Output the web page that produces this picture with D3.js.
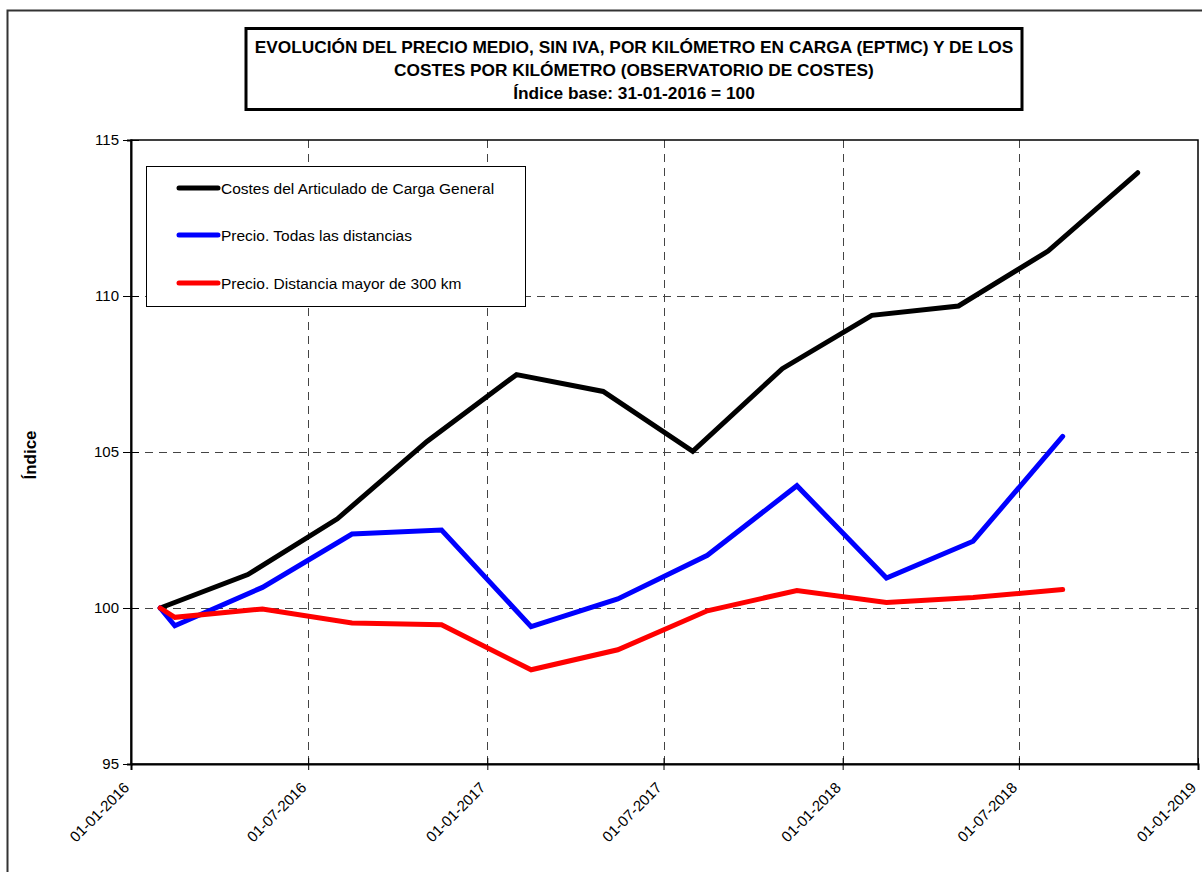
<!DOCTYPE html>
<html>
<head>
<meta charset="utf-8">
<script src="https://cdn.jsdelivr.net/npm/d3@7"></script>
<style>
  body { margin: 0; background: #fff; }
  svg { display: block; font-family: "Liberation Sans", Arial, sans-serif; }
</style>
</head>
<body>
<div id="chart"></div>
<script>
// series data
var costDates = ["31-01-2016", "30-04-2016", "31-07-2016", "31-10-2016", "31-01-2017", "30-04-2017",
                 "31-07-2017", "31-10-2017", "31-01-2018", "30-04-2018", "31-07-2018", "31-10-2018"];
var costValues = [100, 101.07, 102.86, 105.34, 107.48, 106.94, 105.02, 107.67, 109.38, 109.68, 111.44, 113.95];

var priceDates = ["31-01-2016", "15-02-2016", "15-05-2016", "15-08-2016", "15-11-2016", "15-02-2017",
                  "15-05-2017", "15-08-2017", "15-11-2017", "15-02-2018", "15-05-2018", "15-08-2018"];
var priceAll = [100, 99.43, 100.66, 102.37, 102.50, 99.40, 100.29, 101.69, 103.92, 100.96, 102.14, 105.50];
var priceLong = [100, 99.70, 99.97, 99.52, 99.46, 98.02, 98.66, 99.91, 100.56, 100.18, 100.34, 100.59];

var seriesNames = ["Costes del Articulado de Carga General", "Precio. Todas las distancias", "Precio. Distancia mayor de 300 km"];
var seriesColors = ["#000000", "#0000ff", "#ff0000"];

var yTicks = [95, 100, 105, 110, 115];
var titleLines = ["EVOLUCIÓN DEL PRECIO MEDIO, SIN IVA, POR KILÓMETRO EN CARGA (EPTMC) Y DE LOS",
                  "COSTES POR KILÓMETRO (OBSERVATORIO DE COSTES)",
                  "Índice base: 31-01-2016 = 100"];

var parse = d3.timeParse("%d-%m-%Y");
var fmt = d3.timeFormat("%d-%m-%Y");

var width = 1202, height = 872;
var plot = { left: 131, right: 1198, top: 140, bottom: 764 };

var svg = d3.select("#chart").append("svg")
    .attr("width", width)
    .attr("height", height);

// outer frame
svg.append("rect")
    .attr("x", 7.5).attr("y", 10.5)
    .attr("width", 1210).attr("height", 880)
    .attr("fill", "none")
    .attr("stroke", "#333")
    .attr("stroke-width", 2);

var x = d3.scaleTime()
    .domain([parse("01-01-2016"), parse("01-01-2019")])
    .range([plot.left, plot.right]);

var y = d3.scaleLinear()
    .domain([95, 115])
    .range([plot.bottom, plot.top]);

var xTickValues = d3.timeMonth.every(6).range(parse("01-01-2016"), parse("02-01-2019"));

// grid lines
svg.append("g")
    .selectAll("line")
    .data(xTickValues.slice(1, -1))
    .enter().append("line")
    .attr("x1", d => Math.round(x(d)) + 0.5)
    .attr("x2", d => Math.round(x(d)) + 0.5)
    .attr("y1", plot.top)
    .attr("y2", plot.bottom)
    .attr("stroke", "#444")
    .attr("stroke-dasharray", "8,6");

svg.append("g")
    .selectAll("line")
    .data(yTicks.slice(1, -1))
    .enter().append("line")
    .attr("x1", plot.left)
    .attr("x2", plot.right)
    .attr("y1", d => Math.round(y(d)) + 0.5)
    .attr("y2", d => Math.round(y(d)) + 0.5)
    .attr("stroke", "#444")
    .attr("stroke-dasharray", "8,6");

// plot border
svg.append("rect")
    .attr("x", plot.left).attr("y", plot.top)
    .attr("width", plot.right - plot.left)
    .attr("height", plot.bottom - plot.top)
    .attr("fill", "none")
    .attr("stroke", "#000")
    .attr("stroke-width", 1.5);

// y axis
var yAxis = svg.append("g")
    .attr("transform", "translate(" + plot.left + ",0)")
    .call(d3.axisLeft(y).tickValues(yTicks).tickSize(4).tickPadding(8).tickFormat(d3.format("d")));
yAxis.select(".domain").attr("stroke-width", 2);
yAxis.selectAll(".tick line").attr("x2", -8).attr("x1", 8);
yAxis.selectAll(".tick text")
    .style("font-size", "15px")
    .style("font-family", "'Liberation Sans', Arial, sans-serif")
    .attr("fill", "#000");

// x axis
var xAxis = svg.append("g")
    .attr("transform", "translate(0," + plot.bottom + ")")
    .call(d3.axisBottom(x).tickValues(xTickValues).tickSize(6).tickFormat(fmt));
xAxis.select(".domain").attr("stroke-width", 2);
xAxis.selectAll(".tick line").attr("y1", -6).attr("y2", 6);
xAxis.selectAll(".tick text")
    .style("font-size", "15px")
    .style("font-family", "'Liberation Sans', Arial, sans-serif")
    .attr("fill", "#000")
    .attr("text-anchor", "end")
    .attr("y", 0)
    .attr("dy", "0.35em")
    .attr("transform", "translate(-5,21) rotate(-45)");

// series lines
var lineFn = d3.line()
    .x(d => x(d.date))
    .y(d => y(d.value));

function zipSeries(dates, values) {
    return dates.map(function (d, i) { return { date: parse(d), value: values[i] }; });
}

var series = [
    zipSeries(costDates, costValues),
    zipSeries(priceDates, priceAll),
    zipSeries(priceDates, priceLong)
];

series.forEach(function (s, i) {
    svg.append("path")
        .datum(s)
        .attr("d", lineFn)
        .attr("fill", "none")
        .attr("stroke", seriesColors[i])
        .attr("stroke-width", 5)
        .attr("stroke-linejoin", "miter")
        .attr("stroke-linecap", "round");
});

// legend
var legend = svg.append("g");
legend.append("rect")
    .attr("x", 146.5).attr("y", 166.5)
    .attr("width", 379).attr("height", 140)
    .attr("fill", "#fff")
    .attr("stroke", "#000")
    .attr("stroke-width", 1);

var legendY = [188, 235, 283];
seriesNames.forEach(function (name, i) {
    legend.append("line")
        .attr("x1", 179).attr("x2", 218)
        .attr("y1", legendY[i]).attr("y2", legendY[i])
        .attr("stroke", seriesColors[i])
        .attr("stroke-width", 5)
        .attr("stroke-linecap", "round");
    legend.append("text")
        .attr("x", 221)
        .attr("y", legendY[i] + 6)
        .style("font-size", "15.5px")
        .text(name);
});

// title box
svg.append("rect")
    .attr("x", 246).attr("y", 28.5)
    .attr("width", 776).attr("height", 81)
    .attr("fill", "#fff")
    .attr("stroke", "#000")
    .attr("stroke-width", 3);

svg.append("g")
    .selectAll("text")
    .data(titleLines)
    .enter().append("text")
    .attr("x", 634)
    .attr("y", (d, i) => 52.5 + i * 23)
    .attr("text-anchor", "middle")
    .style("font-size", "17.3px")
    .style("font-weight", "bold")
    .text(d => d);

// y axis title
svg.append("text")
    .attr("transform", "translate(36,455) rotate(-90)")
    .attr("text-anchor", "middle")
    .style("font-size", "17px")
    .style("font-weight", "bold")
    .text("Índice");
</script>
</body>
</html>
